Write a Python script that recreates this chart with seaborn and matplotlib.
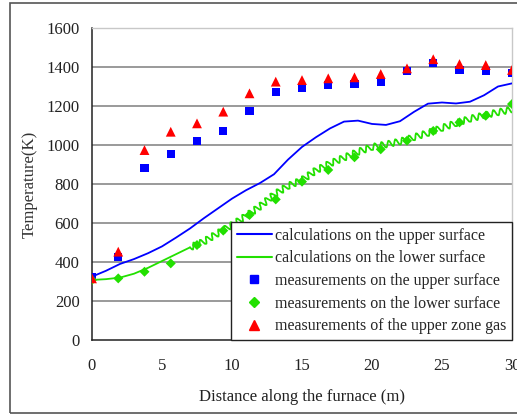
import matplotlib
matplotlib.use("Agg")
import matplotlib.pyplot as plt
from matplotlib.lines import Line2D
from matplotlib.patches import Rectangle
import seaborn as sns
import pandas as pd

# Measurement stations along the furnace (m)
stations = [0, 1.875, 3.75, 5.625, 7.5, 9.375, 11.25, 13.125, 15, 16.875,
            18.75, 20.625, 22.5, 24.375, 26.25, 28.125, 30]
meas_upper = [325, 427, 880, 954, 1022, 1073, 1174, 1270, 1294, 1309,
              1313, 1325, 1381, 1422, 1385, 1381, 1371]
meas_lower = [308, 316, 350, 393, 487, 561, 641, 721, 812, 872,
              937, 978, 1022, 1072, 1116, 1150, 1210]
meas_gas = [316, 453, 974, 1068, 1111, 1171, 1265, 1325, 1333, 1342,
            1347, 1364, 1393, 1440, 1415, 1410, 1385]

# Calculated surface temperatures (K)
calc_x = list(range(0, 31))
calc_upper = [325, 355, 390, 415, 445, 480, 525, 572, 625, 675, 725, 768,
              805, 850, 925, 990, 1040, 1085, 1120, 1125, 1108, 1103, 1122,
              1170, 1212, 1218, 1213, 1222, 1255, 1300, 1316]
calc_lower = [308, 312, 320, 340, 370, 405, 440, 475, 505, 548, 590, 635,
              685, 745, 790, 820, 870, 905, 935, 965, 990, 1003, 1018, 1040,
              1062, 1088, 1112, 1135, 1152, 1168, 1182]

y_ticks = [0, 200, 400, 600, 800, 1000, 1200, 1400, 1600]
x_ticks = [0, 5, 10, 15, 20, 25, 30]

sns.set_style("white")
plt.rcParams["font.family"] = ["Liberation Serif", "DejaVu Serif"]

BLUE = "#0000ff"
GREEN = "#22e000"
RED = "#ff0000"

fig = plt.figure(figsize=(5.17, 4.16), dpi=100)
ax = fig.add_axes([92 / 517, 1 - 340 / 416, 420 / 517, 312 / 416])

calc = pd.DataFrame({"x": calc_x, "upper": calc_upper, "lower": calc_lower})
meas = pd.DataFrame({"x": stations, "upper": meas_upper,
                     "lower": meas_lower, "gas": meas_gas})

sns.lineplot(data=calc, x="x", y="upper", ax=ax, color=BLUE, lw=1.3, zorder=3)
# smooth start of the lower-surface curve, then the oscillating part
sns.lineplot(data=calc.iloc[:8], x="x", y="lower", ax=ax, color=GREEN,
             lw=1.3, zorder=3)
sns.lineplot(data=calc.iloc[7:], x="x", y="lower", ax=ax, color=GREEN,
             lw=1.3, zorder=3)
ax.lines[-1].set_sketch_params(scale=3.2, length=7, randomness=1)

sns.scatterplot(data=meas, x="x", y="upper", ax=ax, marker="s", s=34,
                color=BLUE, edgecolor="none", zorder=4)
sns.scatterplot(data=meas, x="x", y="lower", ax=ax, marker="D", s=26,
                color=GREEN, edgecolor="none", zorder=4)
sns.scatterplot(data=meas, x="x", y="gas", ax=ax, marker="^", s=50,
                color=RED, edgecolor="none", zorder=5)

ax.set_xlim(0, 30)
ax.set_ylim(0, 1600)
ax.set_xticks(x_ticks)
ax.set_yticks(y_ticks)
ax.set_xticklabels([str(v) for v in x_ticks], fontsize=12)
ax.set_yticklabels([str(v) for v in y_ticks], fontsize=12)
ax.tick_params(direction="in", length=5, width=1, color="#333333",
               pad=9, labelcolor="#222222")
ax.tick_params(axis="x", pad=13)

for v in y_ticks[1:-1]:
    ax.axhline(v, color="#7f7f7f", lw=1.1, zorder=1)

for side in ("left", "bottom"):
    ax.spines[side].set_color("#222222")
    ax.spines[side].set_linewidth(1.1)
for side in ("top", "right"):
    ax.spines[side].set_color("#c8c8c8")
    ax.spines[side].set_linewidth(1.0)

ax.set_xlabel("Distance along the furnace (m)", fontsize=12, labelpad=11,
              color="#222222")
ax.set_ylabel("Temperature(K)", fontsize=12, labelpad=6, color="#333333")

handles = [
    Line2D([], [], color=BLUE, lw=1.5),
    Line2D([], [], color=GREEN, lw=1.5),
    Line2D([], [], color=BLUE, marker="s", ms=6, ls="none"),
    Line2D([], [], color=GREEN, marker="D", ms=5, ls="none"),
    Line2D([], [], color=RED, marker="^", ms=7, ls="none"),
]
labels = [
    "calculations on the upper surface",
    "calculations on the lower surface",
    "measurements on the upper surface",
    "measurements on the lower surface",
    "measurements of the upper zone gas",
]
leg = ax.legend(handles, labels, loc="lower right", borderaxespad=0,
                fontsize=11.5, frameon=True, fancybox=False, framealpha=1,
                edgecolor="#222222", handlelength=2.2, handletextpad=0.2,
                labelspacing=0.42, borderpad=0.35)
leg.get_frame().set_linewidth(1.0)
leg.set_zorder(6)

fig.patches.append(Rectangle((10 / 517, 1 - 413 / 416), 1.2, 410 / 416,
                             transform=fig.transFigure, fill=False,
                             edgecolor="#555555", lw=1.2))

fig.savefig("out.png", dpi=100)
